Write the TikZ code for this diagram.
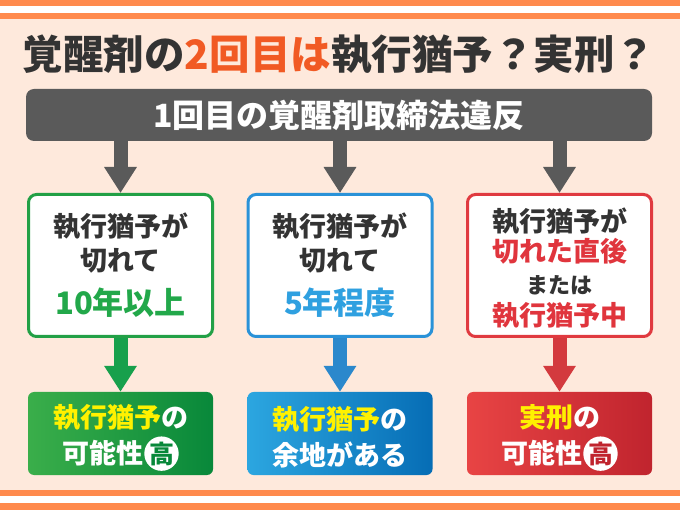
\documentclass[tikz,border=0pt]{standalone}
\usepackage{fontspec}
\setmainfont{Noto Sans CJK JP}
\usetikzlibrary{positioning,arrows.meta}

\definecolor{bgpeach}{HTML}{FEE9DC}
\definecolor{stripe}{HTML}{FF8A4D}
\definecolor{darktext}{HTML}{333333}
\definecolor{titleorange}{HTML}{F15A24}
\definecolor{greybox}{HTML}{5A5A5A}
\definecolor{yel}{HTML}{FFF100}
% green / blue / red sets
\definecolor{gborder}{HTML}{22A046}
\definecolor{gtext}{HTML}{22A84A}
\definecolor{garr}{HTML}{17A04C}
\definecolor{gleft}{HTML}{3AAE4A}
\definecolor{gright}{HTML}{08883A}
\definecolor{bborder}{HTML}{2A92D8}
\definecolor{btext}{HTML}{2FA0E0}
\definecolor{barr}{HTML}{2B88CC}
\definecolor{bleft}{HTML}{2CA6E0}
\definecolor{bright}{HTML}{066DB5}
\definecolor{rborder}{HTML}{E03A40}
\definecolor{rtext}{HTML}{E0353D}
\definecolor{rarr}{HTML}{D33A3E}
\definecolor{rleft}{HTML}{E84444}
\definecolor{rright}{HTML}{C0242E}

% circled mark
\newcommand{\takai}[1]{\hspace{1pt}\tikz[baseline=(mk.base)]\node[circle,fill=white,inner sep=0pt,minimum size=34pt,text=#1,font=\fontsize{25}{25}\selectfont\bfseries](mk){高};}

\begin{document}
\bfseries
\begin{tikzpicture}[x=1pt,y=-1pt,
    box/.style={draw,line width=3pt,fill=white,rounded corners=8pt,minimum width=184pt,
        minimum height=142pt,align=center,text=darktext,font=\fontsize{27}{34}\selectfont},
    res/.style={rounded corners=6pt,minimum width=185pt,minimum height=83pt,align=center,
        text=white,font=\fontsize{27}{36}\selectfont},
    fat/.style={line width=14pt,-{Triangle[width=31pt,length=26pt]}}]

    % background and stripes
    \fill[bgpeach] (0,0) rectangle (680,510);
    \fill[stripe] (0,0) rectangle (680,6);
    \fill[white] (0,6) rectangle (680,13);
    \fill[stripe] (0,13) rectangle (680,19);
    \fill[stripe] (0,490) rectangle (680,496);
    \fill[white] (0,496) rectangle (680,503);
    \fill[stripe] (0,503) rectangle (680,510);
    \useasboundingbox (0,0) rectangle (680,510);

    % title
    \node[font=\fontsize{40.5}{40.5}\selectfont,text=darktext] (title) at (339,55)
        {覚醒剤の\textcolor{titleorange}{2回目は}執行猶予？実刑？};

    % first offence
    \node[fill=greybox,rounded corners=8pt,minimum width=626pt,minimum height=52pt,
        text=white,font=\fontsize{32}{32}\selectfont] (top) at (339,115)
        {1回目の覚醒剤取締法違反};

    % cases
    \node[box,draw=gborder] (box1) at (120.5,265.5)
        {執行猶予が\\切れて\\[10pt]{\fontsize{31}{34}\selectfont\color{gtext}10年以上}};
    \node[box,draw=bborder] (box2) at (340,265.5)
        {執行猶予が\\切れて\\[10pt]{\fontsize{31}{34}\selectfont\color{btext}5年程度}};
    \node[box,draw=rborder] (box3) at (559.5,265.5)
        {\rule{0pt}{29pt}執行猶予が\\[-4pt]\textcolor{rtext}{切れた直後}\\[-2pt]{\fontsize{22}{34}\selectfont または}\\[-1.5pt]\textcolor{rtext}{執行猶予中}};

    \foreach \b in {box1,box2,box3}
        \draw[fat,greybox] (top.south -| \b.north) -- (\b.north);

    % results
    \node[res,left color=gleft,right color=gright] (res1) at (120.5,433.5)
        {\rule{0pt}{31pt}\textcolor{yel}{執行猶予}の\\可能性\takai{gright}};
    \node[res,left color=bleft,right color=bright] (res2) at (340,433.5)
        {\rule{0pt}{31pt}\textcolor{yel}{執行猶予}の\\余地がある};
    \node[res,left color=rleft,right color=rright] (res3) at (559.5,433.5)
        {\rule{0pt}{31pt}\textcolor{yel}{実刑}の\\可能性\takai{rright}};

    \draw[fat,garr] (box1.south) -- (res1.north);
    \draw[fat,barr] (box2.south) -- (res2.north);
    \draw[fat,rarr] (box3.south) -- (res3.north);

\end{tikzpicture}
\end{document}
